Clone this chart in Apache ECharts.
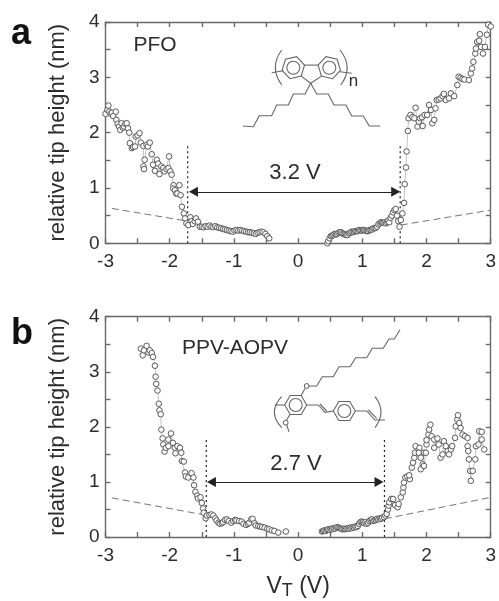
<!DOCTYPE html>
<html><head><meta charset="utf-8">
<style>html,body{margin:0;padding:0;background:#fff}#c{width:499px;height:601px}</style>
<script src="https://cdn.jsdelivr.net/npm/echarts@6/dist/echarts.min.js"></script>
</head><body><div id="c"></div>
<script>
const pfoLeft=[[-3,2.34],[-2.97,2.41],[-2.955,2.49],[-2.94,2.38],[-2.92,2.34],[-2.9,2.36],[-2.88,2.3],[-2.84,2.38],[-2.83,2.23],[-2.81,2.16],[-2.79,2.11],[-2.77,2.05],[-2.75,2.17],[-2.73,2.09],[-2.71,2.11],[-2.69,2.16],[-2.67,2.17],[-2.65,2.08],[-2.63,2],[-2.62,1.81],[-2.59,1.72],[-2.57,1.74],[-2.54,1.75],[-2.53,1.93],[-2.5,1.95],[-2.47,1.99],[-2.45,1.82],[-2.41,1.76],[-2.41,1.39],[-2.4,1.34],[-2.39,1.51],[-2.36,1.78],[-2.34,1.75],[-2.31,1.82],[-2.28,1.61],[-2.26,1.42],[-2.23,1.31],[-2.2,1.51],[-2.18,1.44],[-2.16,1.25],[-2.13,1.39],[-2.1,1.36],[-2.08,1.3],[-2.05,1.34],[-2.02,1.36],[-2.01,1.57],[-1.99,1.3],[-1.97,1.24],[-1.94,1.05],[-1.945,0.99],[-1.92,0.96],[-1.9,0.9],[-1.85,1.05],[-1.88,0.9],[-1.83,0.87],[-1.81,0.66],[-1.78,0.54],[-1.76,0.45],[-1.74,0.36],[-1.71,0.33],[-1.68,0.47],[-1.66,0.4],[-1.64,0.35],[-1.61,0.4],[-1.59,0.45],[-1.56,0.39],[-1.53,0.3],[-1.5,0.3],[-1.47,0.29],[-1.44,0.31],[-1.41,0.3],[-1.38,0.32],[-1.35,0.3],[-1.32,0.29],[-1.29,0.31],[-1.26,0.29],[-1.23,0.28],[-1.2,0.27],[-1.17,0.26],[-1.14,0.25],[-1.11,0.24],[-1.08,0.23],[-1.05,0.22],[-1.02,0.21],[-0.99,0.23],[-0.96,0.24],[-0.93,0.23],[-0.9,0.24],[-0.87,0.23],[-0.84,0.22],[-0.81,0.21],[-0.78,0.2],[-0.75,0.2],[-0.72,0.19],[-0.69,0.18],[-0.66,0.17],[-0.63,0.19],[-0.6,0.2],[-0.57,0.21],[-0.54,0.2],[-0.51,0.17],[-0.48,0.13],[-0.45,0.09]];
const pfoRight=[[0.457,0],[0.47,0.04],[0.49,0.09],[0.51,0.13],[0.53,0.14],[0.55,0.15],[0.57,0.17],[0.59,0.16],[0.61,0.17],[0.63,0.19],[0.65,0.2],[0.67,0.2],[0.69,0.18],[0.71,0.17],[0.73,0.16],[0.75,0.15],[0.77,0.15],[0.79,0.18],[0.81,0.19],[0.83,0.21],[0.85,0.2],[0.87,0.21],[0.89,0.22],[0.91,0.22],[0.93,0.22],[0.95,0.24],[0.97,0.23],[0.99,0.23],[1.01,0.24],[1.03,0.24],[1.05,0.23],[1.07,0.22],[1.09,0.22],[1.11,0.24],[1.13,0.24],[1.15,0.25],[1.17,0.27],[1.19,0.27],[1.21,0.28],[1.23,0.3],[1.25,0.34],[1.27,0.36],[1.29,0.38],[1.31,0.37],[1.33,0.37],[1.35,0.38],[1.37,0.36],[1.39,0.38],[1.4,0.41],[1.42,0.38],[1.44,0.46],[1.46,0.5],[1.48,0.56],[1.5,0.6],[1.52,0.62],[1.54,0.5],[1.56,0.4],[1.58,0.3],[1.6,0.42],[1.625,0.54],[1.65,0.73],[1.66,1.07],[1.68,1.37],[1.69,1.66],[1.71,2.03],[1.72,2.26],[1.75,2.32],[1.78,2.28],[1.81,2.26],[1.83,2.45],[1.86,2.11],[1.88,2.2],[1.9,2.26],[1.93,2.28],[1.94,2.12],[1.97,2.32],[2.01,2.32],[2.04,2.5],[2.07,2.41],[2.09,2.17],[2.12,2.23],[2.14,2.44],[2.16,2.59],[2.19,2.6],[2.22,2.62],[2.25,2.66],[2.27,2.7],[2.3,2.59],[2.35,2.62],[2.38,2.71],[2.43,2.66],[2.48,2.86],[2.5,3.01],[2.53,2.99],[2.56,2.97],[2.59,2.96],[2.66,2.95],[2.69,3.07],[2.71,3.16],[2.73,3.28],[2.76,3.43],[2.77,3.52],[2.79,3.64],[2.83,3.78],[2.82,3.66],[2.85,3.55],[2.88,3.43],[2.91,3.55],[2.94,3.77],[2.96,3.95],[3,3.92]];
const ppvLeft=[[-2.45,3.42],[-2.42,3.3],[-2.4,3.39],[-2.36,3.47],[-2.33,3.35],[-2.31,3.39],[-2.28,3.34],[-2.26,3.27],[-2.23,3.11],[-2.22,2.91],[-2.21,2.78],[-2.19,2.66],[-2.17,2.42],[-2.16,2.3],[-2.14,2.23],[-2.13,1.95],[-2.11,1.79],[-2.1,1.68],[-2.08,1.55],[-2.06,1.62],[-2.02,1.65],[-2.02,1.77],[-1.98,1.88],[-1.95,1.71],[-1.92,1.62],[-1.91,1.52],[-1.88,1.65],[-1.84,1.62],[-1.82,1.53],[-1.81,1.38],[-1.78,1.37],[-1.76,1.17],[-1.75,1.1],[-1.71,1.08],[-1.66,1.16],[-1.63,1.08],[-1.62,0.94],[-1.6,0.82],[-1.57,0.75],[-1.56,0.7],[-1.52,0.72],[-1.5,0.62],[-1.48,0.52],[-1.47,0.44],[-1.44,0.34],[-1.42,0.39],[-1.38,0.4],[-1.35,0.41],[-1.32,0.39],[-1.29,0.34],[-1.27,0.3],[-1.24,0.26],[-1.22,0.24],[-1.19,0.25],[-1.17,0.27],[-1.14,0.31],[-1.11,0.32],[-1.08,0.29],[-1.04,0.26],[-1.01,0.29],[-0.98,0.31],[-0.96,0.3],[-0.92,0.29],[-0.88,0.28],[-0.85,0.24],[-0.81,0.22],[-0.78,0.24],[-0.76,0.26],[-0.73,0.32],[-0.71,0.33],[-0.68,0.25],[-0.66,0.21],[-0.62,0.2],[-0.59,0.19],[-0.56,0.18],[-0.52,0.17],[-0.48,0.15],[-0.45,0.14],[-0.41,0.12],[-0.37,0.11],[-0.31,0.08],[-0.19,0.1]];
const ppvRight=[[0.37,0.1],[0.39,0.11],[0.41,0.12],[0.43,0.11],[0.45,0.13],[0.47,0.14],[0.49,0.13],[0.51,0.15],[0.53,0.14],[0.55,0.16],[0.57,0.15],[0.59,0.17],[0.61,0.18],[0.63,0.17],[0.65,0.16],[0.67,0.15],[0.69,0.14],[0.71,0.15],[0.73,0.14],[0.75,0.15],[0.77,0.16],[0.79,0.15],[0.81,0.17],[0.83,0.16],[0.85,0.18],[0.87,0.17],[0.89,0.19],[0.91,0.18],[0.93,0.2],[0.95,0.24],[0.97,0.27],[0.99,0.28],[1.01,0.27],[1.03,0.25],[1.05,0.27],[1.07,0.24],[1.09,0.26],[1.11,0.29],[1.13,0.31],[1.15,0.32],[1.17,0.29],[1.19,0.3],[1.21,0.31],[1.23,0.33],[1.25,0.32],[1.27,0.34],[1.29,0.33],[1.31,0.35],[1.34,0.36],[1.36,0.39],[1.38,0.42],[1.4,0.5],[1.41,0.57],[1.42,0.63],[1.45,0.69],[1.48,0.69],[1.51,0.58],[1.55,0.54],[1.565,0.6],[1.6,0.72],[1.63,0.81],[1.64,0.9],[1.65,0.99],[1.67,1.08],[1.7,1.1],[1.74,1.05],[1.73,1.12],[1.77,1.26],[1.79,1.35],[1.81,1.44],[1.82,1.53],[1.83,1.65],[1.89,1.62],[1.88,1.53],[1.91,1.44],[1.96,1.53],[1.94,1.32],[1.91,1.23],[1.96,1.29],[1.99,1.53],[2,1.68],[2,1.76],[2.03,1.86],[2.04,1.95],[2.06,2.04],[2.08,1.83],[2.12,1.77],[2.12,1.62],[2.17,1.79],[2.19,1.68],[2.22,1.44],[2.25,1.5],[2.27,1.74],[2.3,1.65],[2.33,1.56],[2.35,1.5],[2.38,1.59],[2.4,1.65],[2.445,1.8],[2.455,2.01],[2.48,2.13],[2.49,2.21],[2.51,2.07],[2.53,1.98],[2.56,1.86],[2.6,1.83],[2.64,1.8],[2.64,1.65],[2.65,1.56],[2.66,1.41],[2.68,1.2],[2.69,1.02],[2.72,1.2],[2.76,1.41],[2.77,1.65],[2.81,1.68],[2.82,1.92],[2.86,1.91],[2.86,1.77],[2.9,1.59]];
const pfoDashLeft=[[-2.9,0.63],[-1.72,0.4]];
const pfoDashRight=[[1.6,0.33],[3,0.6]];
const ppvDashLeft=[[-2.9,0.71],[-1.45,0.4]];
const ppvDashRight=[[1.35,0.33],[3,0.72]];
const pfoDotLeft=[[-1.72,0],[-1.72,1.81]];
const pfoDotRight=[[1.59,0],[1.59,1.81]];
const ppvDotLeft=[[-1.43,0],[-1.43,1.79]];
const ppvDotRight=[[1.345,0],[1.345,1.77]];
const pfoArrow=[[-1.63,0.93],[1.52,0.93]];
const ppvArrow=[[-1.35,1],[1.26,1]];
const xRange=[-3,3], yRange=[0,4], xStep=0.5, yStep=0.5;
const yTitle='relative tip height (nm)';

const font='"Liberation Sans", Arial, sans-serif';
const axisCol='#6a6a6a', textCol='#2c2c2c';
const lineS={color:axisCol,width:1.4};
function fmt(v){return Number.isInteger(v)?String(v):'';}
function axisBase(){return {axisLine:{show:true,onZero:false,lineStyle:lineS},axisTick:{show:true,inside:true,length:5,lineStyle:lineS},splitLine:{show:false}};}
function xAx(grid,pos,labels,extra){return Object.assign({type:'value',gridIndex:grid,position:pos,min:xRange[0],max:xRange[1],interval:xStep},axisBase(),{
  axisLabel:{show:labels,formatter:fmt,color:textCol,fontSize:19,fontFamily:font,margin:9,showMinLabel:true,showMaxLabel:true,hideOverlap:false}},extra||{});}
function yAx(grid,pos,labels,extra){return Object.assign({type:'value',gridIndex:grid,position:pos,min:yRange[0],max:yRange[1],interval:yStep},axisBase(),{
  axisLabel:{show:labels,formatter:fmt,color:textCol,fontSize:19,fontFamily:font,margin:6,showMinLabel:true,showMaxLabel:true,hideOverlap:false}},extra||{});}
const yName={name:yTitle,nameLocation:'middle',nameGap:37,nameTextStyle:{color:textCol,fontSize:22,fontFamily:font}};
function dataS(g,d){return {type:'line',xAxisIndex:g*2,yAxisIndex:g*2,data:d,symbol:'circle',symbolSize:5.6,showSymbol:true,showAllSymbols:true,z:5,
  lineStyle:{color:'#999',width:0.6},itemStyle:{color:'#fbfbfb',borderColor:'#5a5a5a',borderWidth:1}};}
function plainS(g,d,type,col,w){return {type:'line',xAxisIndex:g*2,yAxisIndex:g*2,data:d,symbol:'none',silent:true,z:3,lineStyle:{color:col,width:w,type:type}};}
function arrowS(g,d){return {type:'line',xAxisIndex:g*2,yAxisIndex:g*2,data:[],symbol:'none',silent:true,z:4,
  markLine:{silent:true,animation:false,symbol:['triangle','triangle'],symbolSize:[10,9],lineStyle:{color:'#222',width:1.2,type:'solid'},label:{show:false},
    data:[[{coord:d[0]},{coord:d[1]}]]}};}

const stroke={stroke:'#666',lineWidth:1.1,fill:null};
function pl(points){return {type:'polyline',shape:{points},style:stroke,silent:true};}
function hex(cx,cy,r,inner,rotDeg){const pts=[];for(let i=0;i<6;i++){const a=(rotDeg+i*60)*Math.PI/180;pts.push([cx+r*Math.cos(a),cy+r*Math.sin(a)]);}
  return [{type:'polygon',shape:{points:pts},style:stroke,silent:true},{type:'circle',shape:{cx,cy,r:inner},style:stroke,silent:true}];}
function br(x1,y1,x2,y2,cx,cy){return {type:'bezierCurve',shape:{x1,y1,x2,y2,cpx1:cx,cpy1:cy},style:stroke,silent:true};}
function ring(cx,cy){return {type:'circle',shape:{cx,cy,r:2.4},style:{stroke:'#555',lineWidth:1,fill:'#fff'},silent:true};}
function txt(x,y,t,size,weight,col){return {type:'text',x,y,silent:true,style:{text:t,fontSize:size,fontWeight:weight||'normal',fontFamily:font,fill:col||textCol,textAlign:'center',textVerticalAlign:'middle'}};}

const graphics=[
  txt(21,34,'a',36,'bold','#111'),txt(22,334,'b',36,'bold','#111'),
  txt(155,45,'PFO',21),txt(235,348,'PPV-AOPV',21),
  txt(295,173,'3.2 V',22),txt(296,464,'2.7 V',22),
  txt(353.5,81,'n',17),
  ...hex(293.3,67.7,11.5,6.5,-13),...hex(329.3,67.7,11.5,6.5,13),
  pl([[301.1,76.1],[310.7,83.3],[321.5,76.1]]),pl([[304.5,65.1],[318.1,65.1]]),
  pl([[271.7,72.7],[283.3,70.7]]),pl([[340,71.7],[351.7,73.3]]),
  br(281.7,50,281.7,85,269,67.5),br(340,50,340.7,85,354,67.5),
  pl([[310.7,83.3],[305,94],[293.3,94],[288.3,105],[276.7,105],[271.7,115.7],[259.3,115.7],[253.3,126.7],[243,126]]),
  pl([[310.7,83.3],[316.7,94],[328.3,94],[334,105],[346,105],[351.7,116],[363.3,116],[369.3,126],[380,126]]),
  ...hex(295.7,405,11,6.5,0),...hex(344.3,411,11,6.5,0),
  pl([[309,386],[316.7,386],[322.3,376.7],[333.3,376.7],[339,366.7],[350,366.7],[355.7,357.7],[366.7,357.7],[372.3,348.3],[383.3,348.3],[389,339],[394.3,339],[400,329.7]]),
  ring(306.7,386),
  pl([[305,388.5],[301.2,395.5]]),
  pl([[306.7,405],[318.3,405],[325,412.3],[333.3,411]]),pl([[320,404],[326.7,411]]),
  pl([[355.3,411],[366.7,411],[375,420],[385,420]]),pl([[368.3,410],[376.7,418.3]]),
  pl([[275,405],[284.7,405]]),pl([[290,414.5],[286.5,420.3]]),
  ring(285.7,422.7),
  pl([[286.7,425],[289,431.7]]),
  br(281.7,396.7,281.7,427.7,267,412),br(375,396.7,375,427.7,387,412)
];

const option={
  animation:false,backgroundColor:'#fff',
  grid:[{left:105.5,top:22,width:386.2,height:221.3},{left:105.5,top:316.7,width:386.2,height:221.6}],
  xAxis:[xAx(0,'bottom',true),xAx(0,'top',false),
    xAx(1,'bottom',true,{name:'{v|V}{s|T}{v| (V)}',nameLocation:'middle',nameGap:37,nameTextStyle:{rich:{v:{fontSize:23,fontFamily:font,color:textCol},s:{fontSize:18,fontFamily:font,color:textCol,verticalAlign:'bottom',padding:[8,0,0,0]}}}}),
    xAx(1,'top',false)],
  yAxis:[yAx(0,'left',true,yName),yAx(0,'right',false),yAx(1,'left',true,yName),yAx(1,'right',false)],
  graphic:{elements:graphics},
  series:[
    plainS(0,pfoDashLeft,[7,4],'#777',1),plainS(0,pfoDashRight,[7,4],'#777',1),
    plainS(1,ppvDashLeft,[7,4],'#777',1),plainS(1,ppvDashRight,[7,4],'#777',1),
    plainS(0,pfoDotLeft,[2,3],'#222',1.2),plainS(0,pfoDotRight,[2,3],'#222',1.2),
    plainS(1,ppvDotLeft,[2,3],'#222',1.2),plainS(1,ppvDotRight,[2,3],'#222',1.2),
    arrowS(0,pfoArrow),arrowS(1,ppvArrow),
    dataS(0,pfoLeft),dataS(0,pfoRight),dataS(1,ppvLeft),dataS(1,ppvRight)
  ]
};
echarts.init(document.getElementById('c'),null,{renderer:'canvas'}).setOption(option);
</script></body></html>
